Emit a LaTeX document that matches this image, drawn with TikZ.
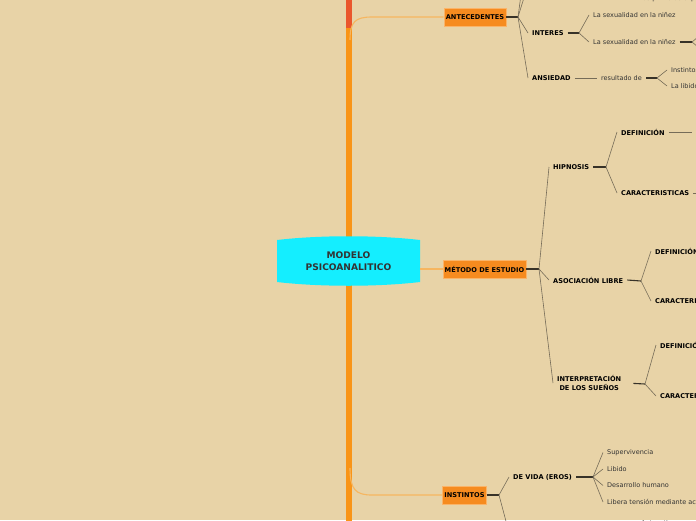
\documentclass[tikz,border=0pt]{standalone}
\usepackage{fontspec}
\setmainfont{DejaVu Sans}
\usetikzlibrary{positioning}
\definecolor{paper}{RGB}{232,211,167}
\definecolor{trunk}{RGB}{249,148,22}
\definecolor{trunkred}{RGB}{234,86,44}
\definecolor{twigc}{RGB}{246,182,96}
\definecolor{boxfill}{RGB}{246,139,31}
\definecolor{boxline}{RGB}{250,180,105}
\definecolor{aqua}{RGB}{20,238,255}
\definecolor{fanc}{RGB}{118,108,88}
\definecolor{stubc}{RGB}{55,50,40}
\tikzset{
  topic/.style={draw=boxline, fill=boxfill, font=\fontsize{6.6}{8}\selectfont\bfseries, minimum height=18pt, inner xsep=2pt, inner ysep=0pt},
  sub/.style={font=\fontsize{6.6}{8.2}\selectfont\bfseries, anchor=west, inner xsep=4pt, inner ysep=1pt},
  leaf/.style={font=\fontsize{6.5}{8}\selectfont, text=black!80, anchor=west, inner xsep=4pt, inner ysep=1pt},
  fan/.style={draw=fanc, line width=0.6pt},
  stub/.style={draw=stubc, line width=1.1pt},
  twig/.style={draw=twigc, line width=1.1pt},
  trunkline/.style={line width=5.5pt}
}

\begin{document}
\begin{tikzpicture}[x=1pt,y=-1pt]
  \useasboundingbox (0,0) rectangle (696,520);
  \fill[paper] (0,0) rectangle (696,520);
  \clip (0,0) rectangle (696,520);

  % trunk and main branches
  \draw[trunkline, trunkred] (349,-2) -- (349,32);
  \draw[trunkline, trunk] (349,28) -- (349,522);

  \fill[aqua] (277,240) .. controls (320,235) and (377,235) .. (420,240)
    -- (420,282) .. controls (377,287) and (320,287) .. (277,282) -- cycle;
  \node[font=\fontsize{9.1}{11.5}\selectfont\bfseries, text=black!80, align=center,
        minimum width=143pt, minimum height=44pt] (modelo) at (348.5,261) {MODELO\\PSICOANALITICO};

  \node[topic] (antec) at (475,17) {ANTECEDENTES};
  \node[topic] (metodo) at (484.5,269) {MÉTODO DE ESTUDIO};
  \node[topic] (instintos) at (464.5,495) {INSTINTOS};

  \draw[twig] (350,40) .. controls (350,22) and (355,17) .. (372,17) -- (antec.west);
  \draw[twig] (metodo.west -| modelo.east) -- (metodo.west);
  \draw[twig] (350,468) .. controls (350,490) and (356,495) .. (372,495) -- (instintos.west);

  % antecedentes
  \coordinate (fA) at (518,17);
  \draw[stub] (antec.east) -- (fA);
  \draw[fan] (fA) -- (527,-12);
  \draw[fan] (fA) -- (527,-50);
  \node[leaf] (primeras) at (637,-1) {las primeras experiencias};

  \node[sub] (interes) at (528,33) {INTERES};
  \node[sub] (ansiedad) at (528,78) {ANSIEDAD};
  \draw[fan] (fA) -- (interes.west);
  \draw[fan] (fA) -- (ansiedad.west);

  \coordinate (fI) at (579,33);
  \draw[stub] (interes.east) -- (fI);
  \node[leaf] (sexA) at (589,15) {La sexualidad en la niñez};
  \node[leaf] (sexB) at (589,42) {La sexualidad en la niñez};
  \draw[fan] (fI) -- (sexA.west);
  \draw[fan] (fI) -- (sexB.west);
  \coordinate (fS) at (692,42);
  \draw[stub] (sexB.east) -- (fS);
  \draw[fan] (fS) -- (704,32);
  \draw[fan] (fS) -- (704,52);

  \node[leaf] (resultado) at (597,78) {resultado de};
  \draw[fan, line width=0.9pt] (ansiedad.east) -- (resultado.west);
  \coordinate (fR) at (657,78);
  \draw[stub] (resultado.east) -- (fR);
  \node[leaf] (instinto) at (667,70) {Instintos};
  \node[leaf] (libido) at (667,86) {La libido};
  \draw[fan] (fR) -- (instinto.west);
  \draw[fan] (fR) -- (libido.west);

  % metodo de estudio
  \coordinate (fM) at (539,269);
  \draw[stub] (metodo.east) -- (fM);
  \node[sub] (hipnosis) at (549,167) {HIPNOSIS};
  \node[sub] (asociacion) at (549,280) {ASOCIACIÓN LIBRE};
  \node[sub, align=center] (interp) at (553,383) {INTERPRETACIÓN\\DE LOS SUEÑOS};
  \draw[fan] (fM) -- (hipnosis.west);
  \draw[fan] (fM) -- (asociacion.west);
  \draw[fan] (fM) -- (interp.west);

  \coordinate (fH) at (606,167);
  \draw[stub] (hipnosis.east) -- (fH);
  \node[sub] (defA) at (617,132) {DEFINICIÓN};
  \node[sub] (carA) at (617,193) {CARACTERISTICAS};
  \draw[fan] (fH) -- (defA.west);
  \draw[fan] (fH) -- (carA.west);
  \draw[fan] (defA.east) -- (692,132);
  \draw[fan] (carA.east) -- (700,193);

  \coordinate (fL) at (641,281);
  \draw[stub] (asociacion.east) -- (fL);
  \node[sub] (defB) at (651,251) {DEFINICIÓN};
  \node[sub] (carB) at (651,301) {CARACTERISTICAS};
  \draw[fan] (fL) -- (defB.west);
  \draw[fan] (fL) -- (carB.west);

  \coordinate (fN) at (645,384);
  \draw[stub, shorten <=8pt] (interp.east) -- (fN);
  \node[sub] (defC) at (656,345) {DEFINICIÓN};
  \node[sub] (carC) at (656,396) {CARACTERISTICAS};
  \draw[fan] (fN) -- (defC.west);
  \draw[fan] (fN) -- (carC.west);

  % instintos
  \coordinate (fT) at (499,495);
  \draw[stub] (instintos.east) -- (fT);
  \node[sub] (eros) at (509,477) {DE VIDA (EROS)};
  \draw[fan] (fT) -- (eros.west);
  \draw[fan] (fT) -- (511,540);

  \coordinate (fE) at (593,477);
  \draw[stub] (eros.east) -- (fE);
  \node[leaf] (superv) at (603,452.5) {Supervivencia};
  \node[leaf] (libidoB) at (603,469) {Libido};
  \node[leaf] (desarrollo) at (603,485.5) {Desarrollo humano};
  \node[leaf] (libera) at (603,502) {Libera tensión mediante actividades};
  \foreach \n in {superv,libidoB,desarrollo,libera}
    \draw[fan] (fE) -- (\n.west);
  \node[leaf] (autoestima) at (637,523) {Autoestima};
\end{tikzpicture}
\end{document}
